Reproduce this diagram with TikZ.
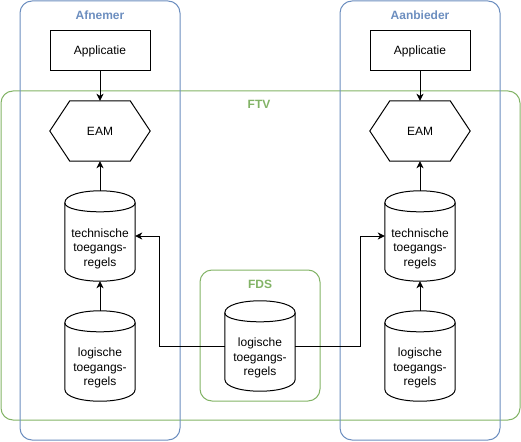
\documentclass[tikz,border=0pt]{standalone}
\usepackage{fontspec}
\setmainfont{Liberation Sans}
\usetikzlibrary{arrows.meta}
\definecolor{cblue}{HTML}{6C8EBF}
\definecolor{cgreen}{HTML}{82B366}
\tikzset{
  every node/.style={font=\fontsize{12}{14.5}\selectfont},
  cont/.style={draw, line width=1pt, rounded corners=12pt, inner sep=0pt},
  contlbl/.style={font=\fontsize{12}{14.5}\selectfont\bfseries, inner sep=0pt},
  appbox/.style={draw, line width=1pt, minimum width=100pt, minimum height=40pt, inner sep=0pt},
  hexbox/.style={minimum width=100pt, minimum height=60pt, inner sep=0pt},
  cylbox/.style={minimum width=70pt, minimum height=90pt, inner sep=0pt},
  cyltxt/.style={align=center, inner sep=0pt},
  shapeline/.style={line width=1pt},
  arr/.style={line width=1pt, -{Stealth[length=7pt,width=7pt,inset=2pt]}},
}
\newcommand\hexdraw[1]{%
  \draw[shapeline] (#1.west) -- ([xshift=20pt]#1.north west) -- ([xshift=-20pt]#1.north east)
    -- (#1.east) -- ([xshift=-20pt]#1.south east) -- ([xshift=20pt]#1.south west) -- cycle;}
\newcommand\cyldraw[1]{%
  \draw[shapeline] ([yshift=-12pt]#1.north west) .. controls ([yshift=4pt]#1.north west) and ([yshift=4pt]#1.north east) .. ([yshift=-12pt]#1.north east)
    -- ([yshift=12pt]#1.south east) .. controls ([yshift=-4pt]#1.south east) and ([yshift=-4pt]#1.south west) .. ([yshift=12pt]#1.south west) -- cycle;
  \draw[shapeline] ([yshift=-12pt]#1.north west) .. controls ([yshift=-24pt]#1.north west) and ([yshift=-24pt]#1.north east) .. ([yshift=-12pt]#1.north east);}
\begin{document}
\begin{tikzpicture}[x=1pt,y=-1pt]
\useasboundingbox (0,0) rectangle (521,441);
% containers
\node[cont, cgreen, minimum width=519pt, minimum height=329pt] (ftv) at (260.5,255.5) {};
\node[cont, cblue, minimum width=160pt, minimum height=439pt] (afn) at (100,220.5) {};
\node[cont, cblue, minimum width=160pt, minimum height=439pt] (aan) at (420,220.5) {};
\node[cont, cgreen, minimum width=120pt, minimum height=131pt] (fds) at (260,335.5) {};
\node[contlbl, cblue] (afnl) at (100,15) {Afnemer};
\node[contlbl, cblue] (aanl) at (420,15) {Aanbieder};
\node[contlbl, cgreen] (ftvl) at (259,104) {FTV};
\node[contlbl, cgreen] (fdsl) at (260,284) {FDS};
% applications
\node[appbox] (a1) at (100,51) {Applicatie};
\node[appbox] (a2) at (420,51) {Applicatie};
% EAM
\node[hexbox] (e1) at (100,131) {EAM};
\node[hexbox] (e2) at (420,131) {EAM};
\hexdraw{e1}
\hexdraw{e2}
% cylinders
\node[cylbox] (t1) at (100,236) {};
\node[cylbox] (t2) at (420,236) {};
\node[cylbox] (l1) at (100,356) {};
\node[cylbox] (l2) at (420,356) {};
\node[cylbox] (lf) at (260,346) {};
\cyldraw{t1}
\cyldraw{t2}
\cyldraw{l1}
\cyldraw{l2}
\cyldraw{lf}
\node[cyltxt] (t1t) at (100,248.5) {technische\\toegangs-\\regels};
\node[cyltxt] (t2t) at (420,248.5) {technische\\toegangs-\\regels};
\node[cyltxt] (l1t) at (100,368) {logische\\toegangs-\\regels};
\node[cyltxt] (l2t) at (420,368) {logische\\toegangs-\\regels};
\node[cyltxt] (lft) at (260,358) {logische\\toegangs-\\regels};
% connectors
\draw[arr] (a1.south) -- (e1.north);
\draw[arr] (a2.south) -- (e2.north);
\draw[arr] (t1.north) -- (e1.south);
\draw[arr] (t2.north) -- (e2.south);
\draw[arr] (l1.north) -- (t1.south);
\draw[arr] (l2.north) -- (t2.south);
\draw[arr] (lf.west) -- ++(-65,0) |- (t1.east);
\draw[arr] (lf.east) -- ++(65,0) |- (t2.west);
\end{tikzpicture}
\end{document}
